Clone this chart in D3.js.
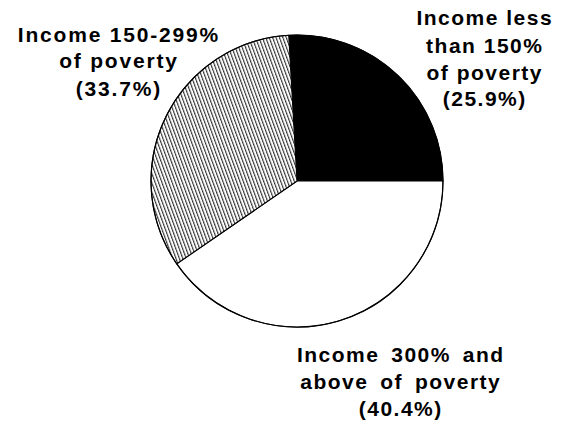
<!DOCTYPE html>
<html>
<head>
<meta charset="utf-8">
<script src="https://cdn.jsdelivr.net/npm/d3@7"></script>
<style>
  html, body { margin: 0; padding: 0; background: #fff; }
  svg { display: block; }
  text { font-family: "Liberation Sans", Arial, sans-serif; font-weight: bold; fill: #000; }
</style>
</head>
<body>
<svg id="chart" width="562" height="427"></svg>
<script>
// Share of people by family income relative to the poverty line
const categories = [
  "Income less than 150% of poverty",
  "Income 300% and above of poverty",
  "Income 150-299% of poverty"
];
const shares = [25.9, 40.4, 33.7];
const fills = ["black", "white", "url(#hatch)"];

// Label lines for each slice (the percentage line is appended from the data)
const labelLines = [
  ["Income less", "than 150%", "of poverty"],
  ["Income 300% and", "above of poverty"],
  ["Income 150-299%", "of poverty"]
];

const svg = d3.select("#chart");

// diagonal hatching pattern
const defs = svg.append("defs");
const pat = defs.append("pattern")
  .attr("id", "hatch")
  .attr("patternUnits", "userSpaceOnUse")
  .attr("width", 3.2)
  .attr("height", 10)
  .attr("patternTransform", "rotate(-20)");
pat.append("rect").attr("width", 3.2).attr("height", 10).attr("fill", "white");
pat.append("line")
  .attr("x1", 0.6).attr("y1", 0).attr("x2", 0.6).attr("y2", 10)
  .attr("stroke", "black").attr("stroke-width", 0.9);

const cx = 297, cy = 181, r = 146;

// first slice ends at 3 o'clock, slices run clockwise
const offset = Math.PI / 2 - (shares[0] / 100) * 2 * Math.PI;
const pie = d3.pie().sort(null).value(d => d)
  .startAngle(offset).endAngle(offset + 2 * Math.PI);
const arcs = pie(shares);
const arc = d3.arc().innerRadius(0).outerRadius(r);

const g = svg.append("g").attr("transform", `translate(${cx},${cy})`);
g.selectAll("path.slice")
  .data(arcs)
  .join("path")
  .attr("class", "slice")
  .attr("d", arc)
  .attr("fill", (d, i) => fills[i])
  .attr("stroke", "black")
  .attr("stroke-width", 1.1)
  .attr("stroke-linejoin", "round");

// outline of the whole pie
g.append("circle").attr("r", r).attr("fill", "none")
  .attr("stroke", "black").attr("stroke-width", 1.1);

// text blocks
const labelPos = [
  { x: 484, y: 25, dy: [0, 28, 55, 81], ls: 1.5, ws: 0 },
  { x: 400, y: 362, dy: [0, 26.5, 53.5], ls: 1.5, ws: 4.5 },
  { x: 118, y: 41.5, dy: [0, 26.5, 54], ls: 1.8, ws: 0 }
];

categories.forEach((c, i) => {
  const p = labelPos[i];
  const lines = labelLines[i].concat([`(${shares[i].toFixed(1)}%)`]);
  const t = svg.append("text")
    .attr("text-anchor", "middle")
    .attr("font-size", 21)
    .attr("letter-spacing", p.ls)
    .attr("word-spacing", p.ws);
  lines.forEach((ln, k) => {
    t.append("tspan")
      .attr("x", p.x + p.ls / 2)
      .attr("y", p.y + p.dy[k])
      .text(ln);
  });
});
</script>
</body>
</html>
